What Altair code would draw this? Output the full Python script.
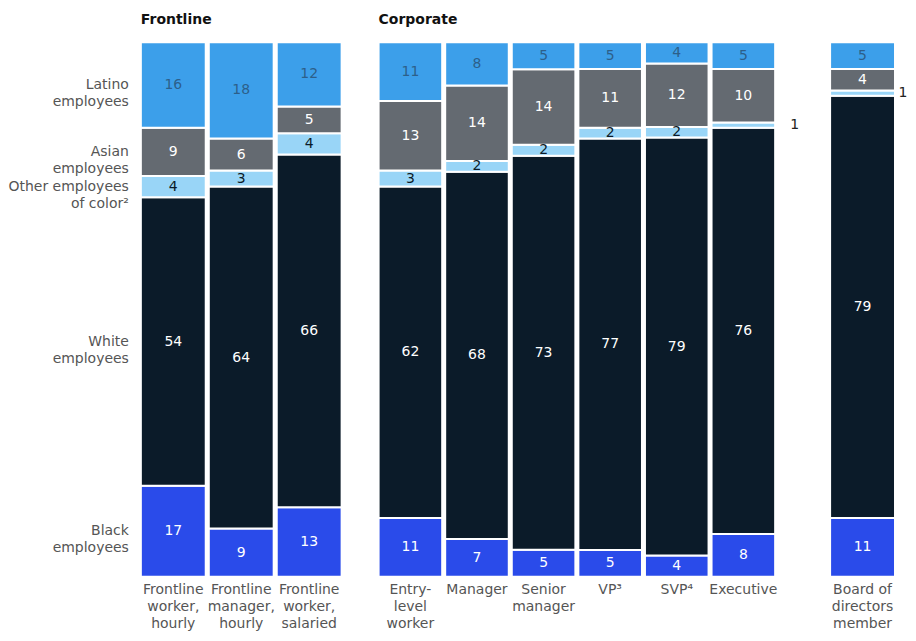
import altair as alt
import pandas as pd

roles = [
    "Frontline|worker,|hourly", "Frontline|manager,|hourly", "Frontline|worker,|salaried",
    "Entry-|level|worker", "Manager", "Senior|manager", "VP³", "SVP⁴", "Executive",
    "Board of|directors|member",
]
groups = ["Frontline"] * 3 + ["Corporate"] * 6 + ["Board"]
races = ["Black", "White", "Other", "Asian", "Latino"]
race_labels = ["Black|employees", "White|employees", "Other employees|of color²",
               "Asian|employees", "Latino|employees"]
black = [17, 9, 13, 11, 7, 5, 5, 4, 8, 11]
white = [54, 64, 66, 62, 68, 73, 77, 79, 76, 79]
other = [4, 3, 4, 3, 2, 2, 2, 2, 1, 1]
asian = [9, 6, 5, 13, 14, 14, 11, 12, 10, 4]
latino = [16, 18, 12, 11, 8, 5, 5, 4, 5, 5]

fill_colors = ["#2A4BEA", "#0B1B29", "#99D5F7", "#646A71", "#3C9FEA"]
text_colors = ["#ffffff", "#ffffff", "#0B1B29", "#ffffff", "#2d5f8a"]

series = [black, white, other, asian, latino]
rows = []
for ri, (race, vals) in enumerate(zip(races, series)):
    for i, role in enumerate(roles):
        rows.append({
            "role": role, "group": groups[i], "race": race, "order": ri,
            "value": vals[i], "tcolor": text_colors[ri], "rlabel": race_labels[ri],
        })
df = pd.DataFrame(rows)

FONT = "DejaVu Sans"
LABEL_COLOR = "#555555"
H = 535


def panel(group, width, title_text, left_labels=False, one_dx=45, outer=0.0, align=0.5):
    sub_roles = [r for r, g in zip(roles, groups) if g == group]
    base = alt.Chart(df).transform_filter(
        alt.datum.group == group
    ).transform_stack(
        stack="value", groupby=["role"], as_=["y0", "y1"],
        offset="normalize", sort=[alt.SortField("order", order="ascending")],
    ).transform_calculate(mid="(datum.y0 + datum.y1) / 2")

    xs = alt.Scale(paddingInner=0.045, paddingOuter=outer, align=align)
    x = alt.X("role:N", sort=sub_roles, title=None, scale=xs,
              axis=alt.Axis(labelAngle=0, domain=False, ticks=False,
                            labelExpr="split(datum.label, '|')",
                            labelFontSize=14, labelColor=LABEL_COLOR,
                            labelFont=FONT, labelLineHeight=17,
                            labelPadding=6, labelLimit=200))
    y_scale = alt.Scale(domain=[0, 1], nice=False)

    bars = base.mark_bar(stroke="white", strokeWidth=2).encode(
        x=x,
        y=alt.Y("y0:Q", scale=y_scale, axis=None),
        y2="y1:Q",
        color=alt.Color("race:N", scale=alt.Scale(domain=races, range=fill_colors), legend=None),
    )
    inside = base.transform_filter(alt.datum.value != 1).mark_text(
        fontSize=14, font=FONT, baseline="middle"
    ).encode(
        x=alt.X("role:N", sort=sub_roles),
        y=alt.Y("mid:Q", scale=y_scale, axis=None),
        text="value:Q",
        color=alt.Color("tcolor:N", scale=None, legend=None),
    )
    outside = base.transform_filter(alt.datum.value == 1).mark_text(
        fontSize=14, font=FONT, baseline="middle", align="left", dx=one_dx, color="#222222"
    ).encode(
        x=alt.X("role:N", sort=sub_roles),
        y=alt.Y("mid:Q", scale=y_scale, axis=None),
        text="value:Q",
    )
    layers = [bars, inside, outside]
    if left_labels:
        lab = base.transform_filter(alt.datum.role == sub_roles[0]).transform_calculate(
            lines="split(datum.rlabel, '|')"
        ).mark_text(
            fontSize=14, font=FONT, align="right", baseline="middle",
            color=LABEL_COLOR, lineHeight=17, dx=-12,
        ).encode(
            x=alt.value(0),
            y=alt.Y("mid:Q", scale=y_scale, axis=None),
            text="lines:N",
        )
        layers.append(lab)
    return alt.layer(*layers).resolve_scale(color="independent").properties(
        width=width, height=H,
        title=alt.TitleParams(title_text, anchor="start", frame="group", fontSize=14,
                              fontWeight="bold", font=FONT, color="#111111", offset=14),
    )


front = panel("Frontline", 201, "Frontline", left_labels=True)
corp = panel("Corporate", 397, "Corporate", one_dx=47)
board = panel("Board", 83, " ", one_dx=36, outer=0.1323, align=1)

chart = alt.hconcat(
    front, corp, board, spacing=37, bounds="flush",
).properties(
    padding={"left": 0, "top": 5, "right": 0, "bottom": 0}, background="white",
).configure_view(stroke="transparent", strokeWidth=0)

chart.save("out.html", embed_options={"renderer": "svg", "actions": False})
